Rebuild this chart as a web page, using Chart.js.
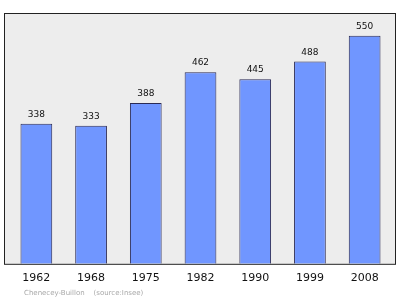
<!DOCTYPE html>
<html>
<head>
<meta charset="utf-8">
<script src="https://cdn.jsdelivr.net/npm/chart.js@4"></script>
<style>
  html, body { margin: 0; padding: 0; background: #fff; }
  #wrap { width: 400px; height: 299px; }
</style>
</head>
<body>
<div id="wrap"><canvas id="popChart" width="400" height="299"></canvas></div>
<script>
// --- Data ---
const years = ['1962', '1968', '1975', '1982', '1990', '1999', '2008'];
const population = [338, 333, 388, 462, 445, 488, 550];
const yMax = 605;
const sourceText = 'Chenecey-Buillon    (source:Insee)';

// --- Plot box: grey background + frame, a bit wider than the bar area ---
const frameBox = {
    id: 'frameBox',
    beforeDatasetsDraw: (chart) => {
        const { ctx, chartArea } = chart;
        const x0 = chartArea.left - 5, x1 = chartArea.right + 4;
        const y0 = chartArea.top, y1 = chartArea.bottom;
        ctx.save();
        ctx.fillStyle = '#ededed';
        ctx.fillRect(x0, y0, x1 - x0, y1 - y0);
        ctx.strokeStyle = '#222';
        ctx.lineWidth = 1;
        ctx.strokeRect(x0 + 0.5, y0 + 0.5, x1 - x0 - 1, y1 - y0);
        ctx.restore();
    }
};

// --- Value labels above bars + source line ---
const barLabels = {
    id: 'barLabels',
    afterDatasetsDraw: (chart) => {
        const { ctx } = chart;
        const meta = chart.getDatasetMeta(0);
        ctx.save();
        ctx.font = '9px "DejaVu Sans"';
        ctx.fillStyle = '#111';
        ctx.textAlign = 'center';
        ctx.textBaseline = 'alphabetic';
        meta.data.forEach((bar, i) => {
            ctx.fillText(String(population[i]), bar.x, bar.y - 7);
        });
        ctx.font = '7px "DejaVu Sans"';
        ctx.fillStyle = '#a8a8a8';
        ctx.textAlign = 'left';
        ctx.textBaseline = 'middle';
        ctx.fillText(sourceText, 24, 293);
        ctx.restore();
    }
};

new Chart(document.getElementById('popChart'), {
    type: 'bar',
    data: {
        labels: years,
        datasets: [{
            data: population,
            backgroundColor: '#7096ff',
            borderColor: '#2a2a55',
            borderWidth: 1,
            barPercentage: 0.58,
            categoryPercentage: 1
        }]
    },
    options: {
        responsive: false,
        animation: false,
        layout: { padding: { left: 9, right: 8, top: 13, bottom: 6 } },
        plugins: {
            legend: { display: false },
            tooltip: { enabled: false }
        },
        scales: {
            x: {
                grid: { display: false, drawTicks: false },
                border: { display: false },
                ticks: { color: '#111', padding: 8, font: { family: 'DejaVu Sans', size: 11 } }
            },
            y: {
                display: false,
                min: 0,
                max: yMax
            }
        }
    },
    plugins: [frameBox, barLabels]
});
</script>
</body>
</html>
